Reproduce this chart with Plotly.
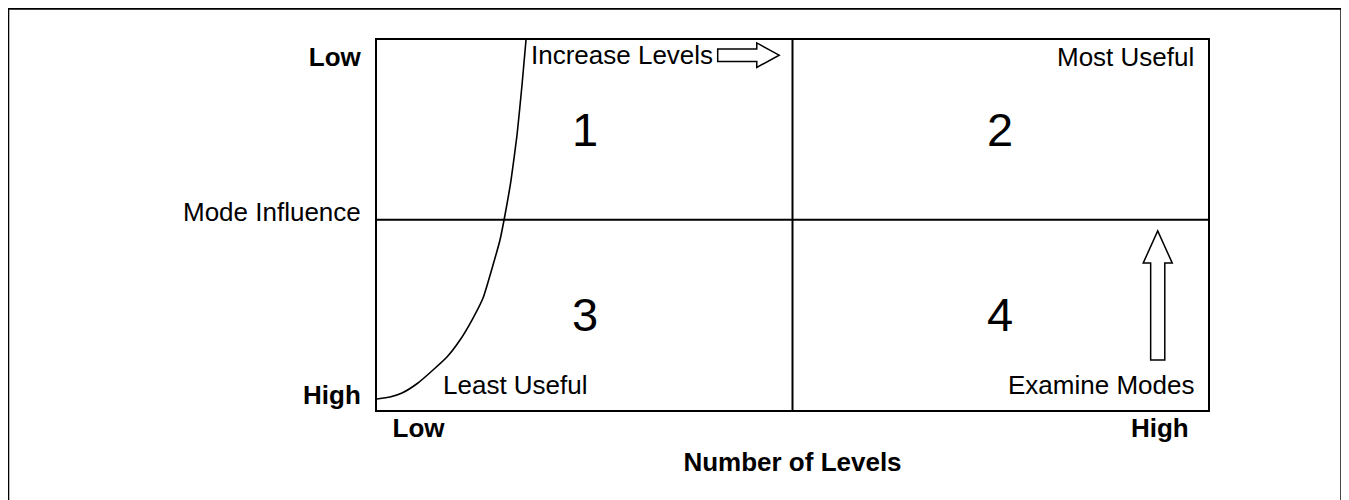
import plotly.graph_objects as go

# ---- data ----
curve_x = [0.000, 0.0156, 0.0301, 0.0493, 0.0674, 0.0842, 0.0999, 0.1143, 0.1276,
           0.1396, 0.1480, 0.1540, 0.1613, 0.1685, 0.1745, 0.1793]
curve_y = [0.0297, 0.0351, 0.0459, 0.0730, 0.1081, 0.1432, 0.1892, 0.2432, 0.3027,
           0.3919, 0.4595, 0.5270, 0.6216, 0.7432, 0.8784, 1.0000]

x_split = 0.5
y_split = 0.514

quadrant_labels = ["1", "2", "3", "4"]

x_tick_vals = [0.050, 0.942]
x_tick_text = ["<b>Low</b>", "<b>High</b>"]
y_tick_vals = [0.040, 0.535, 0.954]
y_tick_text = ["<b>High</b>", "Mode Influence", "<b>Low</b>"]

x_title = "<b>Number of Levels</b>"

corner_texts = ["Increase Levels", "Most Useful", "Least Useful", "Examine Modes"]

FONT = "Liberation Sans, Arial, sans-serif"
FS = 26

fig = go.Figure()

fig.add_trace(go.Scatter(
    x=curve_x, y=curve_y, mode="lines",
    line=dict(color="black", width=1.6, shape="spline", smoothing=0.5),
    hoverinfo="skip", showlegend=False,
))

shapes = []
# quadrant dividers
shapes.append(dict(type="line", xref="x", yref="y", x0=x_split, x1=x_split, y0=0, y1=1,
                   line=dict(color="black", width=2)))
shapes.append(dict(type="line", xref="x", yref="y", x0=0, x1=1, y0=y_split, y1=y_split,
                   line=dict(color="black", width=2)))
# outer frame
shapes.append(dict(type="rect", xref="paper", yref="paper", x0=-0.444, x1=1.1607, y0=-0.3, y1=1.0851,
                   line=dict(color="black", width=2.5), fillcolor="rgba(0,0,0,0)", layer="below"))

# right arrow (Increase Levels)
rx0, rxb, rxt = 0.410, 0.457, 0.484
ryc, rbh, rhh = 0.959, 0.017, 0.033
shapes.append(dict(type="path", xref="x", yref="y",
                   path=(f"M {rx0},{ryc-rbh} L {rxb},{ryc-rbh} L {rxb},{ryc-rhh} L {rxt},{ryc} "
                         f"L {rxb},{ryc+rhh} L {rxb},{ryc+rbh} L {rx0},{ryc+rbh} Z"),
                   line=dict(color="black", width=1.5), fillcolor="white"))
# up arrow (Examine Modes)
uxc, ubw, uhw = 0.9395, 0.0085, 0.0175
uy0, uyb, uyt = 0.135, 0.397, 0.484
shapes.append(dict(type="path", xref="x", yref="y",
                   path=(f"M {uxc-ubw},{uy0} L {uxc-ubw},{uyb} L {uxc-uhw},{uyb} L {uxc},{uyt} "
                         f"L {uxc+uhw},{uyb} L {uxc+ubw},{uyb} L {uxc+ubw},{uy0} Z"),
                   line=dict(color="black", width=1.5), fillcolor="white"))

annotations = []
qx = [x_split / 2, (1 + x_split) / 2]
qy = [(1 + y_split) / 2, y_split / 2]
for i, lab in enumerate(quadrant_labels):
    annotations.append(dict(x=qx[i % 2], y=qy[i // 2], xref="x", yref="y", text=lab,
                            showarrow=False, font=dict(family=FONT, size=47, color="black"),
                            xanchor="center", yanchor="middle"))

corner_pos = [
    (0.183, 0.959, "left"),
    (0.985, 0.954, "right"),
    (0.0775, 0.068, "left"),
    (0.985, 0.068, "right"),
]
for t, (x, y, xa) in zip(corner_texts, corner_pos):
    annotations.append(dict(x=x, y=y, xref="x", yref="y", text=t, showarrow=False,
                            font=dict(family=FONT, size=FS, color="black"),
                            xanchor=xa, yanchor="middle"))

fig.update_layout(
    width=1349, height=500,
    margin=dict(l=369, r=149, t=32, b=98),
    paper_bgcolor="white", plot_bgcolor="white",
    shapes=shapes, annotations=annotations,
    font=dict(family=FONT, size=FS, color="black"),
    showlegend=False,
)
fig.update_xaxes(range=[0, 1], showgrid=False, zeroline=False, showline=True, mirror=True,
                 linecolor="black", linewidth=2, ticks="",
                 tickvals=x_tick_vals, ticktext=x_tick_text, ticklabelstandoff=-6,
                 tickfont=dict(family=FONT, size=FS, color="black"),
                 title=dict(text=x_title, font=dict(family=FONT, size=FS, color="black"), standoff=11))
fig.update_yaxes(range=[0, 1], showgrid=False, zeroline=False, showline=True, mirror=True,
                 linecolor="black", linewidth=2, ticks="",
                 tickvals=y_tick_vals, ticktext=y_tick_text,
                 tickfont=dict(family=FONT, size=FS, color="black"), ticklabelstandoff=9)

fig.write_html("out.html")
